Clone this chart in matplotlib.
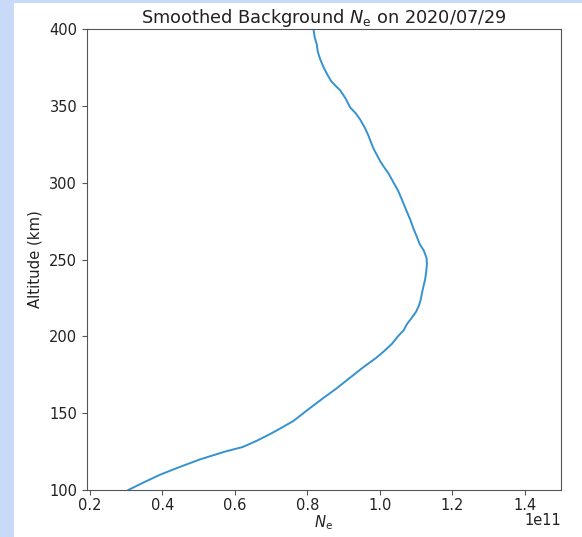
import matplotlib
matplotlib.use("Agg")
import matplotlib.pyplot as plt
from matplotlib.patches import Rectangle

# Altitude (km) and smoothed background electron density (in units of 1e11)
altitude_km = [100, 105, 110, 115, 120, 125, 128, 132, 136, 140, 145, 152,
               160, 166, 172, 180, 186, 190, 195, 200, 204, 208, 212, 216, 220,
               224, 230, 237, 242, 247, 251, 256, 260, 265, 270, 276, 282, 289,
               295, 300, 306, 310, 314, 318, 322, 326, 331, 336, 341, 345, 349,
               355, 360, 363, 366, 370, 375, 380, 385, 390, 395, 400]
ne_1e11 = [0.306, 0.349, 0.394, 0.448, 0.505, 0.573, 0.622, 0.66, 0.694,
           0.725, 0.762, 0.80, 0.845, 0.88, 0.912, 0.955, 0.99, 1.01, 1.033,
           1.05, 1.066, 1.075, 1.088, 1.10, 1.108, 1.113, 1.118, 1.125, 1.128,
           1.130, 1.129, 1.121, 1.110, 1.102, 1.093, 1.084, 1.073, 1.061, 1.050,
           1.038, 1.024, 1.012, 1.001, 0.992, 0.983, 0.976, 0.968, 0.958, 0.946,
           0.934, 0.918, 0.905, 0.891, 0.878, 0.866, 0.856, 0.845, 0.836, 0.829,
           0.826, 0.820, 0.817]

ne = [v * 1e11 for v in ne_1e11]

fig = plt.figure(figsize=(5.82, 5.37), dpi=100)
fig.patch.set_facecolor("white")
# light blue screenshot border strips
fig.patches.append(Rectangle((0, 0), 14 / 582, 1, transform=fig.transFigure,
                             facecolor="#c9daf8", edgecolor="none", zorder=0))
fig.patches.append(Rectangle((0, 1 - 3 / 537), 1, 3 / 537, transform=fig.transFigure,
                             facecolor="#c9daf8", edgecolor="none", zorder=0))

ax = fig.add_axes([87 / 582, 1 - 490 / 537, (561 - 87) / 582, (490 - 29) / 537])
ax.plot(ne, altitude_km, color="#3492d1", linewidth=1.4)
ax.set_xlim(0.192e11, 1.5e11)
ax.set_ylim(100, 400)
ax.set_xticks([0.2e11, 0.4e11, 0.6e11, 0.8e11, 1.0e11, 1.2e11, 1.4e11])
ax.set_yticks([100, 150, 200, 250, 300, 350, 400])
ax.set_xlabel(r"$N_\mathrm{e}$", fontsize=10.7, color="#222222", labelpad=0)
ax.set_ylabel("Altitude (km)", fontsize=10.7, color="#222222", labelpad=5)
ax.set_title(r"Smoothed Background $N_\mathrm{e}$ on 2020/07/29", fontsize=12.8,
             color="#222222", pad=4)
for s in ax.spines.values():
    s.set_color("#555555")
ax.tick_params(colors="#555555", labelcolor="#222222", labelsize=10.5)
ax.tick_params(axis="x", pad=2.5)
ax.xaxis.OFFSETTEXTPAD = 0
ax.xaxis.get_offset_text().set_fontsize(10.5)
ax.xaxis.get_offset_text().set_color("#222222")

fig.savefig("out.png", dpi=100)
